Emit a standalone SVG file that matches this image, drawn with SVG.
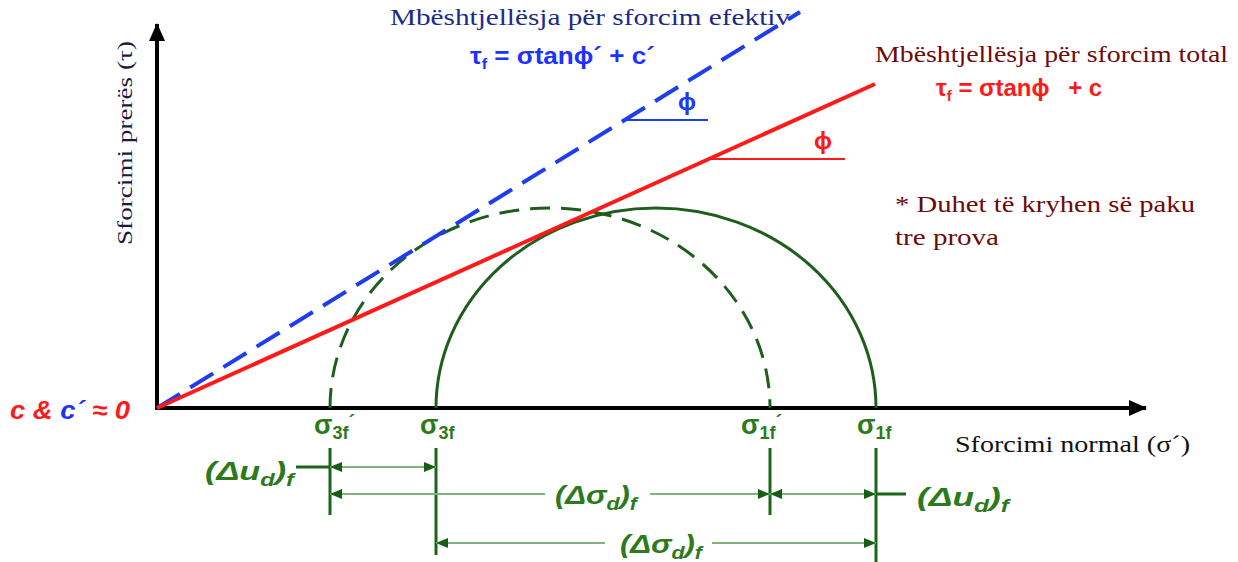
<svg xmlns="http://www.w3.org/2000/svg" width="1238" height="562" viewBox="0 0 1238 562">
<style>
.serif{font-family:"Liberation Serif","Times New Roman",serif}
.sans{font-family:"Liberation Sans",Arial,sans-serif;font-weight:bold}
.gl{fill:#2d7a1c;font-style:italic}
.sig{fill:#2d7a1c;font-size:27px}
.dim{stroke:#7fb27f;stroke-width:2;fill:none}
.tick{stroke:#1b661b;stroke-width:3;fill:none}
</style>
<defs>
<marker id="ah" viewBox="0 0 12 10" refX="12" refY="5" markerWidth="12" markerHeight="10" markerUnits="userSpaceOnUse" orient="auto-start-reverse">
<path d="M0,0 L12,5 L0,10 z" fill="#155e15"/>
</marker>
<marker id="axh" viewBox="0 0 18 16" refX="17" refY="8" markerWidth="18" markerHeight="16" markerUnits="userSpaceOnUse" orient="auto">
<path d="M0,0 L18,8 L0,16 z" fill="#000"/>
</marker>
</defs>

<g id="axes">
<line x1="157" y1="410" x2="157" y2="24" stroke="#000" stroke-width="4" marker-end="url(#axh)"/>
<line x1="155" y1="408" x2="1146" y2="408" stroke="#000" stroke-width="4" marker-end="url(#axh)"/>
<text class="serif" x="0" y="0" transform="translate(132,143) rotate(-90)" font-size="22" fill="#1a1a40" text-anchor="middle" textLength="204" lengthAdjust="spacingAndGlyphs">Sforcimi prerës (τ)</text>
<text class="serif" x="955" y="452" font-size="23" fill="#111" textLength="235" lengthAdjust="spacingAndGlyphs">Sforcimi normal (σ´)</text>
</g>

<g id="circles">
<path d="M330,408 A220,200 0 0 1 770,408" fill="none" stroke="#1d5e1d" stroke-width="3" stroke-dasharray="20,11"/>
<path d="M436,408 A220,200 0 0 1 876,408" fill="none" stroke="#1d5e1d" stroke-width="3"/>
</g>

<g id="envelopes">
<line x1="157" y1="408" x2="800" y2="12" stroke="#1e3cf0" stroke-width="4" stroke-dasharray="27,12"/>
<line x1="157" y1="408" x2="875" y2="84" stroke="#ff1a1a" stroke-width="4"/>
<line x1="622" y1="120" x2="708" y2="120" stroke="#1e3cf0" stroke-width="2"/>
<line x1="710" y1="159" x2="845" y2="159" stroke="#ff1a1a" stroke-width="2"/>
<text class="sans" x="687" y="110" font-size="24" fill="#1e3cf0" text-anchor="middle">ϕ</text>
<text class="sans" x="823" y="149" font-size="24" fill="#ff1a1a" text-anchor="middle">ϕ</text>
</g>

<g id="label-effective">
<text class="serif" x="390" y="25" font-size="24" fill="#1a2a8c" textLength="400" lengthAdjust="spacingAndGlyphs">Mbështjellësja për sforcim efektiv</text>
<text class="sans" x="470" y="64" font-size="24" fill="#1e32ff" textLength="185" lengthAdjust="spacingAndGlyphs">τ<tspan font-size="15" dy="5">f</tspan><tspan dy="-5"> = σtanϕ´ + c´</tspan></text>
</g>

<g id="label-total">
<text class="serif" x="875" y="62" font-size="24" fill="#6e0a0a" textLength="353" lengthAdjust="spacingAndGlyphs">Mbështjellësja për sforcim total</text>
<text class="sans" x="936" y="96" font-size="24" fill="#ff1a1a">τ<tspan font-size="15" dy="5">f</tspan><tspan dy="-5"> = σtanϕ</tspan><tspan dx="12"> + c</tspan></text>
</g>

<g id="note">
<text class="serif" x="895" y="212" font-size="24" fill="#6e0a0a" textLength="300" lengthAdjust="spacingAndGlyphs">* Duhet të kryhen së paku</text>
<text class="serif" x="895" y="245" font-size="24" fill="#6e0a0a" textLength="104" lengthAdjust="spacingAndGlyphs">tre prova</text>
</g>

<g id="origin-label">
<text class="sans" x="10" y="419" font-size="26" font-style="italic" textLength="120" lengthAdjust="spacingAndGlyphs"><tspan fill="#ff1a1a">c &amp; </tspan><tspan fill="#1e32ff">c´</tspan><tspan fill="#ff1a1a"> ≈ 0</tspan></text>
</g>

<g id="sigma-labels" class="sans">
<text class="sig" x="314" y="434">σ<tspan font-size="18" dy="5">3f</tspan><tspan font-size="20" dy="-10">´</tspan></text>
<text class="sig" x="420" y="434">σ<tspan font-size="18" dy="5">3f</tspan></text>
<text class="sig" x="741" y="434">σ<tspan font-size="18" dy="5">1f</tspan><tspan font-size="20" dy="-10">´</tspan></text>
<text class="sig" x="857" y="434">σ<tspan font-size="18" dy="5">1f</tspan></text>
</g>

<g id="connectors">
<line class="tick" x1="330" y1="448" x2="330" y2="515"/>
<line class="tick" x1="436" y1="448" x2="436" y2="555" stroke-width="2"/>
<line class="tick" x1="770" y1="448" x2="770" y2="515"/>
<line class="tick" x1="876" y1="448" x2="876" y2="562"/>
<line class="tick" x1="296" y1="467" x2="330" y2="467"/>
<line class="tick" x1="876" y1="494" x2="906" y2="494"/>
<line class="dim" x1="330" y1="467" x2="436" y2="467" marker-start="url(#ah)" marker-end="url(#ah)"/>
<line class="dim" x1="545" y1="494" x2="330" y2="494" marker-end="url(#ah)"/>
<line class="dim" x1="650" y1="494" x2="770" y2="494" marker-end="url(#ah)"/>
<line class="dim" x1="770" y1="494" x2="876" y2="494" marker-start="url(#ah)" marker-end="url(#ah)"/>
<line class="dim" x1="605" y1="543" x2="436" y2="543" marker-end="url(#ah)"/>
<line class="dim" x1="712" y1="543" x2="876" y2="543" marker-end="url(#ah)"/>
</g>

<g id="dim-labels" class="sans">
<text class="gl" x="205" y="480" font-size="26" textLength="89" lengthAdjust="spacingAndGlyphs">(Δu<tspan font-size="18" dy="6">d</tspan><tspan dy="-6">)</tspan><tspan font-size="18" dy="6">f</tspan></text>
<text class="gl" x="917" y="506" font-size="26" textLength="92" lengthAdjust="spacingAndGlyphs">(Δu<tspan font-size="18" dy="6">d</tspan><tspan dy="-6">)</tspan><tspan font-size="18" dy="6">f</tspan></text>
<text class="gl" x="555" y="504" font-size="26" textLength="82" lengthAdjust="spacingAndGlyphs">(Δσ<tspan font-size="18" dy="6">d</tspan><tspan dy="-6">)</tspan><tspan font-size="18" dy="6">f</tspan></text>
<text class="gl" x="620" y="553" font-size="26" textLength="82" lengthAdjust="spacingAndGlyphs">(Δσ<tspan font-size="18" dy="6">d</tspan><tspan dy="-6">)</tspan><tspan font-size="18" dy="6">f</tspan></text>
</g>
</svg>
